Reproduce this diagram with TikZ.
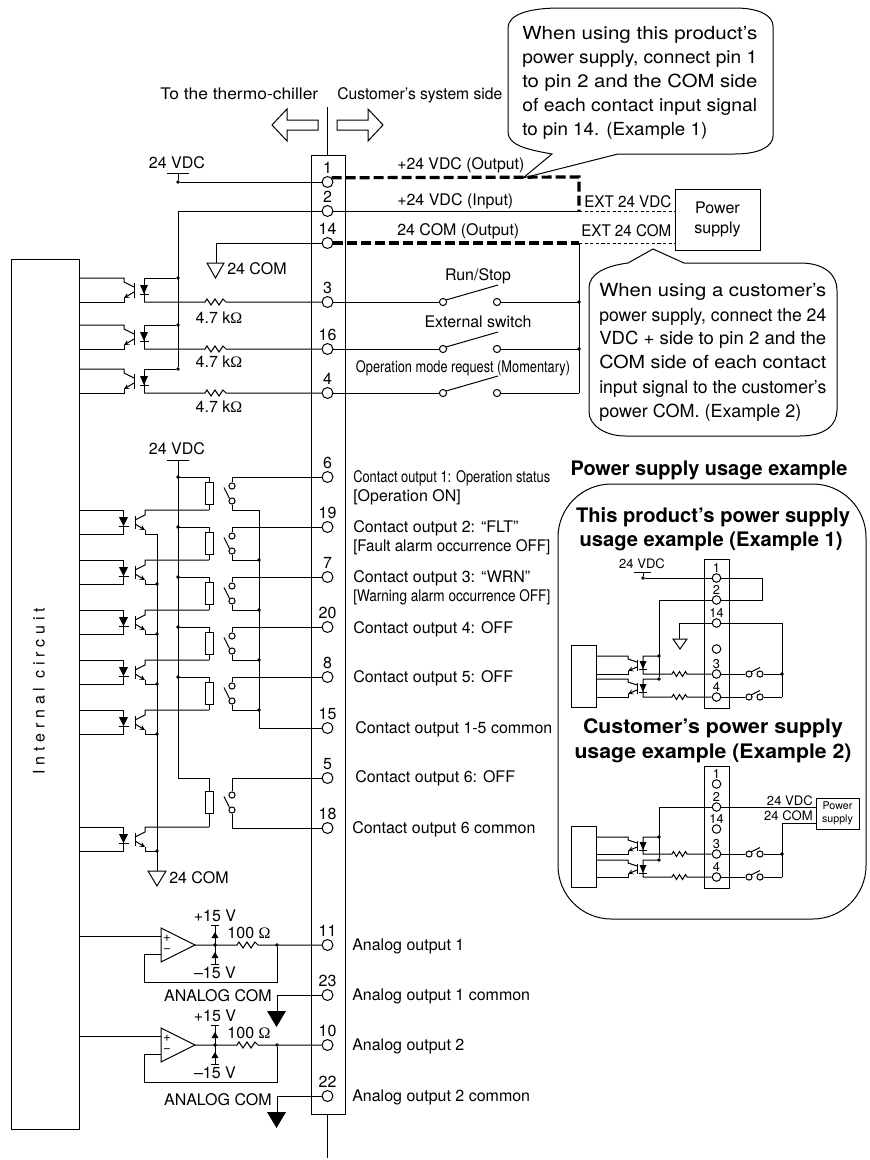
\documentclass[tikz,border=0pt]{standalone}
\usepackage{fontspec}
\setmainfont{TeX Gyre Heros}
\newfontfamily\ohmfont{Liberation Serif}
\usetikzlibrary{arrows,shapes,positioning}
\newcommand{\ohmsign}{{\ohmfont Ω}}
\newcommand{\fitw}[2]{\resizebox{#1\dimexpr0.75pt\relax}{\height}{#2}}
\tikzstyle{wire}=[line width=0.75pt,line join=miter]
\tikzstyle{heavy}=[line width=2.4pt,dash pattern=on 7.5pt off 3pt]
\tikzstyle{thindash}=[line width=0.6pt,dash pattern=on 2.4pt off 1.8pt]
\tikzstyle{pin}=[draw,circle,minimum size=8.2pt,inner sep=0,line width=0.75pt]
\tikzstyle{pinnum}=[font=\fontsize{12}{14}\selectfont,inner sep=0,text depth=0pt,label distance=1.6pt]
\tikzstyle{mpin}=[draw,circle,minimum size=6.4pt,inner sep=0,line width=0.75pt]
\tikzstyle{mnum}=[font=\fontsize{9.6}{11}\selectfont,inner sep=0,text depth=0pt,label distance=0.6pt]
\tikzstyle{jdot}=[draw,fill,circle,minimum size=2.2pt,inner sep=0]
\tikzstyle{cdot}=[draw,circle,minimum size=4.6pt,inner sep=0,line width=0.75pt]
\tikzstyle{coil}=[draw,minimum width=6pt,minimum height=15.8pt,inner sep=0,line width=0.75pt]
\tikzstyle{lab}=[anchor=west,inner sep=0,font=\fontsize{12}{14}\selectfont,text height=8.6pt,text depth=0pt]
\tikzstyle{clab}=[inner sep=0,font=\fontsize{12}{14}\selectfont,text height=8.6pt,text depth=0pt]
\tikzstyle{mlab}=[inner sep=0,font=\fontsize{9.8}{11}\selectfont,text height=7pt,text depth=0pt]
\tikzstyle{note}=[anchor=west,inner sep=0,font=\fontsize{13.5}{16}\selectfont,text height=9.7pt,text depth=0pt]
\tikzstyle{head}=[inner sep=0,font=\fontsize{15}{18}\selectfont\bfseries,text height=10.7pt,text depth=0pt]
% zigzag of a resistor, main and small size
\newcommand{\bigzig}{-- ++(2,-3) -- ++(4,6) -- ++(4,-6) -- ++(4,6) -- ++(4,-6) -- ++(3,3)}
\newcommand{\minzig}{-- ++(1.5,-2.5) -- ++(3,5) -- ++(3,-5) -- ++(3,5) -- ++(3,-5) -- ++(1.5,2.5)}
% contact input coupler: #1 upper wire, #2 lower wire
\newcommand{\optoin}[2]{
\draw[wire] (circuit.east |- 0,#1) -- (124,#1) -- (124,#1+4) -- (134,#1+9);
\draw[wire] (circuit.east |- 0,#2) -- (124,#2) -- (124,#2-4);
\draw[wire,->,>=stealth] (134,#2-10) -- (124,#2-4);
\draw[wire] (134,#1+5) -- (134,#2-4);
\draw[wire] (144,#1) -- (144,#2);
\fill (140,#1+7) -- (148,#1+7) -- (144,#1+16) -- cycle;
\draw[wire] (140,#1+16) -- (149,#1+16);
}
% contact output coupler: #1 upper wire, #2 lower wire
\newcommand{\optoout}[2]{
\draw[wire] (circuit.east |- 0,#1) -- (123,#1) -- (123,#2) -- (circuit.east |- 0,#2);
\fill (119,#1+7) -- (128,#1+7) -- (123.5,#1+16) -- cycle;
\draw[wire] (118.5,#1+16) -- (129,#1+16);
\draw[wire] (135,#1+6) -- (135,#2-5);
\draw[wire] (135,#1+10) -- (145,#1+5) -- (145,#1) -- (209,#1);
\draw[wire,->,>=stealth] (135,#2-10) -- (145,#2-4);
\draw[wire] (145,#2-4) -- (145,#2) -- (157,#2);
}
% coil and contact of a relay: #1 pin, #2 pin wire, #3 lower wire
\newcommand{\relaypart}[3]{
\coordinate (cjoin#1) at (178,#2);
\node[coil] (coil#1) at (209,{(#2)/2+(#3)/2}) {};
\node[cdot] (ct#1) at (232,{(#2)/2+(#3)/2-7.5}) {};
\node[cdot] (cb#1) at (232,{(#2)/2+(#3)/2+7.5}) {};
\draw[wire] (cjoin#1) -- (coil#1.north |- cjoin#1) -- (coil#1.north);
\draw[wire] (coil#1.south) -- (209,#3);
\draw[wire] (p#1.west) -- (ct#1.north |- p#1) -- (ct#1.north);
\draw[wire] (cb#1.north west) ++(-5.5,-11) -- (cb#1.north west);
}
% analog output stage: #1 pin, #2 height, #3 name
\newcommand{\opamp}[3]{
\draw[wire] (161,#2-17) -- (195,#2) -- (161,#2+17) -- cycle;
\coordinate (#3out) at (195,#2);
\draw[wire] (circuit.east |- 0,#2-9) -- (161,#2-9);
\node[inner sep=0,font=\fontsize{10}{10}\selectfont] (#3plus) at (167,#2-7) {+};
\node[inner sep=0,font=\fontsize{10}{10}\selectfont] (#3minus) at (167,#2+6) {−};
\node[jdot] (#3a) at (215,#2) {};
\node[jdot] (#3b) at (277,#2) {};
\draw[wire] (161,#2+9) -- (144,#2+9) -- (144,#2+37) -- (277,#2+37) -- (#3b);
\draw[wire] (#3out) -- (237,#2) \bigzig -- (p#1.west);
\draw[wire] (215,#2-20) -- (215,#2+19);
\draw[wire] (211,#2-20) -- (219,#2-20);
\draw[wire] (211,#2+19) -- (219,#2+19);
\fill (215,#2-13) -- (218.5,#2-7) -- (211.5,#2-7) -- cycle;
\fill (215,#2+7) -- (218.5,#2+13) -- (211.5,#2+13) -- cycle;
\node[clab] (#3up) at (215,#2-29) {+15 V};
\node[clab] (#3dn) at (215,#2+28) {–15 V};
\node[clab] (#3r) at (249,#2-12) {100 \ohmsign};
}
% small input row: #1 a or b, #2 pin, #3 upper wire, #4 lower wire
\newcommand{\minirow}[4]{
\draw[wire] (mbox#1.east |- 0,#3) -- (628,#3) -- (628,#3+3) -- (637,#3+6);
\draw[wire] (mbox#1.east |- 0,#4) -- (628,#4) -- (628,#4-3);
\draw[wire,->,>=stealth] (637,#4-7) -- (628,#4-3);
\draw[wire] (637,#3+4) -- (637,#4-3);
\draw[wire] (659,#3) -- (643,#3) -- (643,#4) -- (672,#4) \minzig -- (m#2#1.west);
\fill (639.5,#3+5) -- (646.5,#3+5) -- (643,#3+13) -- cycle;
\draw[wire] (639,#3+13) -- (647,#3+13);
\node[cdot] (s#2#1l) at (749,#4) {};
\node[cdot] (s#2#1r) at (760,#4) {};
\draw[wire] (m#2#1.east) -- (s#2#1l.west);
\draw[wire] (s#2#1l) ++(2,-2) -- ++(9,-4.5);
\draw[wire] (s#2#1r.east) -- (782,#4);
}

\begin{document}
\begin{tikzpicture}[x=0.75pt,y=-0.75pt]
\useasboundingbox (0,0) rectangle (870,1160);

\node[draw,wire,minimum width=51pt,minimum height=652.5pt,inner sep=0] (circuit) at (45,694) {};
\node[inner sep=0,rotate=90,font=\fontsize{12}{14}\selectfont\addfontfeature{LetterSpace=30}] (circuitname) at (39,691) {Internal circuit};
\node[draw,wire,minimum width=25.5pt,minimum height=719.25pt,inner sep=0] (strip) at (328,634.5) {};

\coordinate (stripT) at (327,107);
\coordinate (stripB) at (327,1158);
\draw[wire] (stripT) -- (stripT |- strip.north);
\draw[wire] (stripB) -- (stripB |- strip.south);
\draw[wire] (337,120) -- (368,120) -- (368,109) -- (383,125) -- (368,141) -- (368,130) -- (337,130) -- cycle;
\draw[wire] (318,120) -- (287,120) -- (287,109) -- (272,125) -- (287,141) -- (287,130) -- (318,130) -- cycle;
\node[lab] (tochiller) at (160,94) {\fitw{158}{To the thermo-chiller}};
\node[lab] (customer) at (337,94) {\fitw{165}{Customer’s system side}};

\foreach \n/\y in {1/182,2/211,14/243,3/302,16/349,4/393,6/477,19/527,7/577,20/627,8/677,15/728,5/778,18/828,11/945,23/995,10/1045,22/1096}
  \node[pin,label={[pinnum]above:\n}] (p\n) at (327.5,\y) {};

%% supply wires
\node[clab] (vdca) at (177,163) {24 VDC};
\coordinate (vdcaT) at (178,173);
\node[jdot] (vdcaJ) at (178,182) {};
\draw[wire] (167,173) -- (189,173);
\draw[wire] (vdcaT) -- (vdcaJ) -- (p1.west);
\node[jdot] (inA) at (178,278) {};
\node[jdot] (inB) at (178,325) {};
\node[jdot] (inC) at (178,369) {};
\draw[wire] (p2.west) -- (p2.west -| inC) -- (inC);
\draw[wire] (p14.west) -- (216,243) -- (216,263);
\draw[wire] (207,263) -- (224,263) -- (215.5,278) -- cycle;
\node[lab] (coma) at (227,269) {24 COM};

%% contact inputs
\optoin{278}{302}
\optoin{325}{349}
\optoin{369}{393}
\draw[wire] (144,278) -- (inA);
\draw[wire] (144,325) -- (inB);
\draw[wire] (144,369) -- (inC);
\draw[wire] (144,302) -- (205,302) \bigzig -- (p3.west);
\draw[wire] (144,349) -- (205,349) \bigzig -- (p16.west);
\draw[wire] (144,393) -- (205,393) \bigzig -- (p4.west);
\node[clab] (ra) at (219,318) {4.7 k\ohmsign};
\node[clab] (rb) at (219,362) {4.7 k\ohmsign};
\node[clab] (rc) at (219,407) {4.7 k\ohmsign};

\coordinate (cnrT) at (579,177);
\coordinate (cnrB) at (579,211);
\coordinate (busT) at (579,243);
\node[draw,wire,minimum width=63.75pt,minimum height=45.75pt,inner sep=0,align=center,font=\fontsize{12}{15}\selectfont] (psu) at (717.5,219.5) {Power\\supply};
\draw[heavy] (p1.45) -- (cnrT) -- (cnrB);
\draw[wire] (p2.east) -- (cnrB);
\draw[heavy] (p14.east) -- (busT);
\draw[thindash] (cnrB) -- (cnrB -| psu.west);
\draw[thindash] (busT) -- (busT -| psu.west);
\node[lab] (lout) at (397,164) {\fitw{127}{+24 VDC (Output)}};
\node[lab] (lin) at (397,200) {\fitw{116}{+24 VDC (Input)}};
\node[lab] (lcom) at (397,230) {\fitw{122}{24 COM (Output)}};
\node[lab] (extv) at (584,202) {\fitw{87}{EXT 24 VDC}};
\node[lab] (extc) at (581,231) {\fitw{90}{EXT 24 COM}};

\foreach \n/\y in {3/302,16/349,4/393} {
  \node[draw,circle,minimum size=5.4pt,inner sep=0,line width=0.75pt] (sl\n) at (443,\y) {};
  \node[draw,circle,minimum size=5.4pt,inner sep=0,line width=0.75pt] (sr\n) at (497,\y) {};
  \draw[wire] (p\n.east) -- (sl\n.west);
  \draw[wire] (sl\n) ++(3,-2) -- (498,\y-17);
  \draw[wire] (sr\n.east) -- (579,\y);
}
\node[jdot] (busA) at (579,302) {};
\node[jdot] (busB) at (579,349) {};
\draw[wire] (busT) -- (579,393);
\node[clab] (lrun) at (478,275) {\fitw{66}{Run/Stop}};
\node[clab] (lext) at (478,322) {\fitw{107}{External switch}};
\node[clab] (lmode) at (463,367) {\fitw{214}{Operation mode request (Momentary)}};

%% contact outputs
\node[clab] (vdcb) at (177,449) {24 VDC};
\draw[wire] (167,460) -- (189,460);
\draw[wire] (178,460) -- (178,778);
\foreach \n/\y in {6/477,19/527,7/577,20/627,8/677} {
  \relaypart{\n}{\y}{\y+33}
  \node[jdot] (vj\n) at (178,\y) {};
  \optoout{\y+33}{\y+57}
  \draw[wire] (cb\n.south) -- (232,\y+33) -- (259,\y+33);
}
\relaypart{5}{778}{827}
\optoout{827}{851}
\draw[wire] (cb5.south) -- (232,828) -- (p18.west);
\draw[wire] (259,510) -- (259,728) -- (p15.west);
\foreach \y in {560,610,660,710}
  \node[jdot] (ob\y) at (259,\y) {};
\draw[wire] (157,534) -- (157,871);
\foreach \y in {584,634,684,734,851}
  \node[jdot] (gb\y) at (157,\y) {};
\draw[wire] (148,871) -- (166,871) -- (157,886) -- cycle;
\node[lab] (comb) at (169,878) {24 COM};

\node[lab] (o1) at (353,477) {\fitw{197}{Contact output 1: Operation status}};
\node[lab] (o1b) at (353,496) {[Operation ON]};
\node[lab] (o2) at (353,527) {Contact output 2: “FLT”};
\node[lab] (o2b) at (353,546) {\fitw{197}{[Fault alarm occurrence OFF]}};
\node[lab] (o3) at (353,577) {Contact output 3: “WRN”};
\node[lab] (o3b) at (353,596) {\fitw{197}{[Warning alarm occurrence OFF]}};
\node[lab] (o4) at (353,628) {Contact output 4: OFF};
\node[lab] (o5) at (353,677) {Contact output 5: OFF};
\node[lab] (o15) at (355,728) {\fitw{197}{Contact output 1-5 common}};
\node[lab] (o6) at (355,777) {Contact output 6: OFF};
\node[lab] (o6c) at (352,828) {Contact output 6 common};

%% analog outputs
\opamp{11}{945}{aa}
\opamp{10}{1045}{ab}
\draw[wire] (p23.west) -- (277,995) -- (277,1011);
\fill (267,1011) -- (286,1011) -- (276.5,1027) -- cycle;
\draw[wire] (p22.west) -- (277,1096) -- (277,1112);
\fill (267,1112) -- (286,1112) -- (276.5,1128) -- cycle;
\node[clab,anchor=east] (anca) at (272,996) {ANALOG COM};
\node[clab,anchor=east] (ancb) at (272,1100) {ANALOG COM};
\node[lab] (a1) at (352,945) {Analog output 1};
\node[lab] (a1c) at (352,995) {Analog output 1 common};
\node[lab] (a2) at (352,1045) {Analog output 2};
\node[lab] (a2c) at (352,1096) {Analog output 2 common};

%% notes
\draw[wire] (508,28) .. controls (508,14) and (530,8) .. (560,8) -- (735,8) .. controls (760,8) and (773,16) .. (773,26) -- (773,136) .. controls (773,146) and (760,154) .. (735,154) -- (618,154) -- (523,178) -- (552,154) .. controls (530,150) and (508,146) .. (508,132) -- cycle;
\foreach \i/\y/\w/\t in {1/33/235/{When using this product’s},2/57/235/{power supply, connect pin 1},3/81/235/{to pin 2 and the COM side},4/105/235/{of each contact input signal},5/129/185/{to pin 14. (Example 1)}}
  \node[note] (na\i) at (522,\y) {\fitw{\w}{\t}};
\draw[wire] (589,288) .. controls (589,274) and (605,266) .. (628,263) -- (653,249) -- (684,263) -- (800,263) .. controls (825,263) and (837,275) .. (837,290) -- (837,410) .. controls (837,425) and (825,436) .. (800,436) -- (625,436) .. controls (605,436) and (589,425) .. (589,412) -- cycle;
\foreach \i/\y/\w/\t in {1/290/227/{When using a customer’s},2/315/227/{power supply, connect the 24},3/338/227/{VDC + side to pin 2 and the},4/362/227/{COM side of each contact},5/387/227/{input signal to the customer’s},6/411/202/{power COM. (Example 2)}}
  \node[note] (nb\i) at (599,\y) {\fitw{\w}{\t}};

%% usage examples
\node[head] (usage) at (709,468) {\fitw{277}{Power supply usage example}};
\node[draw,wire,rounded corners=40pt,minimum width=231pt,minimum height=326.25pt,inner sep=0] (inset) at (712,701.5) {};
\node[head] (ha1) at (713,515) {\fitw{274}{This product’s power supply}};
\node[head] (ha2) at (711,539) {\fitw{263}{usage example (Example 1)}};
\node[head] (hb1) at (713,726) {\fitw{260}{Customer’s power supply}};
\node[head] (hb2) at (713,751) {\fitw{277}{usage example (Example 2)}};

%% example 1
\node[draw,wire,minimum width=18.75pt,minimum height=111.75pt,inner sep=0] (msa) at (716.5,633.5) {};
\node[draw,wire,minimum width=18.75pt,minimum height=46.5pt,inner sep=0] (mboxa) at (583.5,676) {};
\foreach \n/\y in {1/578,2/600,14/623,3/674,4/697}
  \node[mpin,label={[mnum]above:\n}] (m\n a) at (716.5,\y) {};
\node[mpin] (mfree) at (716.5,649) {};
\node[mlab] (mvdc) at (642,564) {24 VDC};
\draw[wire] (634,572) -- (651,572);
\node[jdot] (mvj) at (643,578) {};
\draw[wire] (643,572) -- (mvj) -- (m1a.west);
\draw[wire] (m1a.east) -- (762,578) -- (762,600) -- (m2a.east);
\node[jdot] (maj1) at (659,656) {};
\node[jdot] (maj2) at (659,679) {};
\draw[wire] (m2a.west) -- (659,600) -- (maj2);
\draw[wire] (m14a.west) -- (679,623) -- (679,639);
\draw[wire] (673,639) -- (687,639) -- (680,649) -- cycle;
\draw[wire] (m14a.east) -- (782,623) -- (782,697);
\node[jdot] (mab) at (782,674) {};
\minirow{a}{3}{656}{674}
\minirow{a}{4}{679}{697}

%% example 2
\node[draw,wire,minimum width=18.75pt,minimum height=91.5pt,inner sep=0] (msb) at (716.5,827) {};
\node[draw,wire,minimum width=18.75pt,minimum height=45.75pt,inner sep=0] (mboxb) at (583.5,856.5) {};
\foreach \n/\y in {1/784,2/807,14/829,3/854,4/877}
  \node[mpin,label={[mnum]above:\n}] (m\n b) at (716.5,\y) {};
\node[draw,wire,minimum width=32.25pt,minimum height=23.25pt,inner sep=0,align=center,font=\fontsize{8}{9.6}\selectfont] (mpsu) at (837.5,813.5) {Power\\supply};
\node[jdot] (mbj1) at (659,837) {};
\node[jdot] (mbj2) at (659,860) {};
\draw[wire] (mpsu.west |- m2b) -- (m2b.east);
\draw[wire] (m2b.west) -- (659,807) -- (mbj2);
\draw[wire] (mpsu.west |- 0,823) -- (782,823) -- (782,877);
\node[jdot] (mbb) at (782,854) {};
\minirow{b}{3}{837}{854}
\minirow{b}{4}{860}{877}
\node[mlab,anchor=east] (mbv) at (813,801) {24 VDC};
\node[mlab,anchor=east] (mbc) at (813,816) {24 COM};
\end{tikzpicture}
\end{document}
